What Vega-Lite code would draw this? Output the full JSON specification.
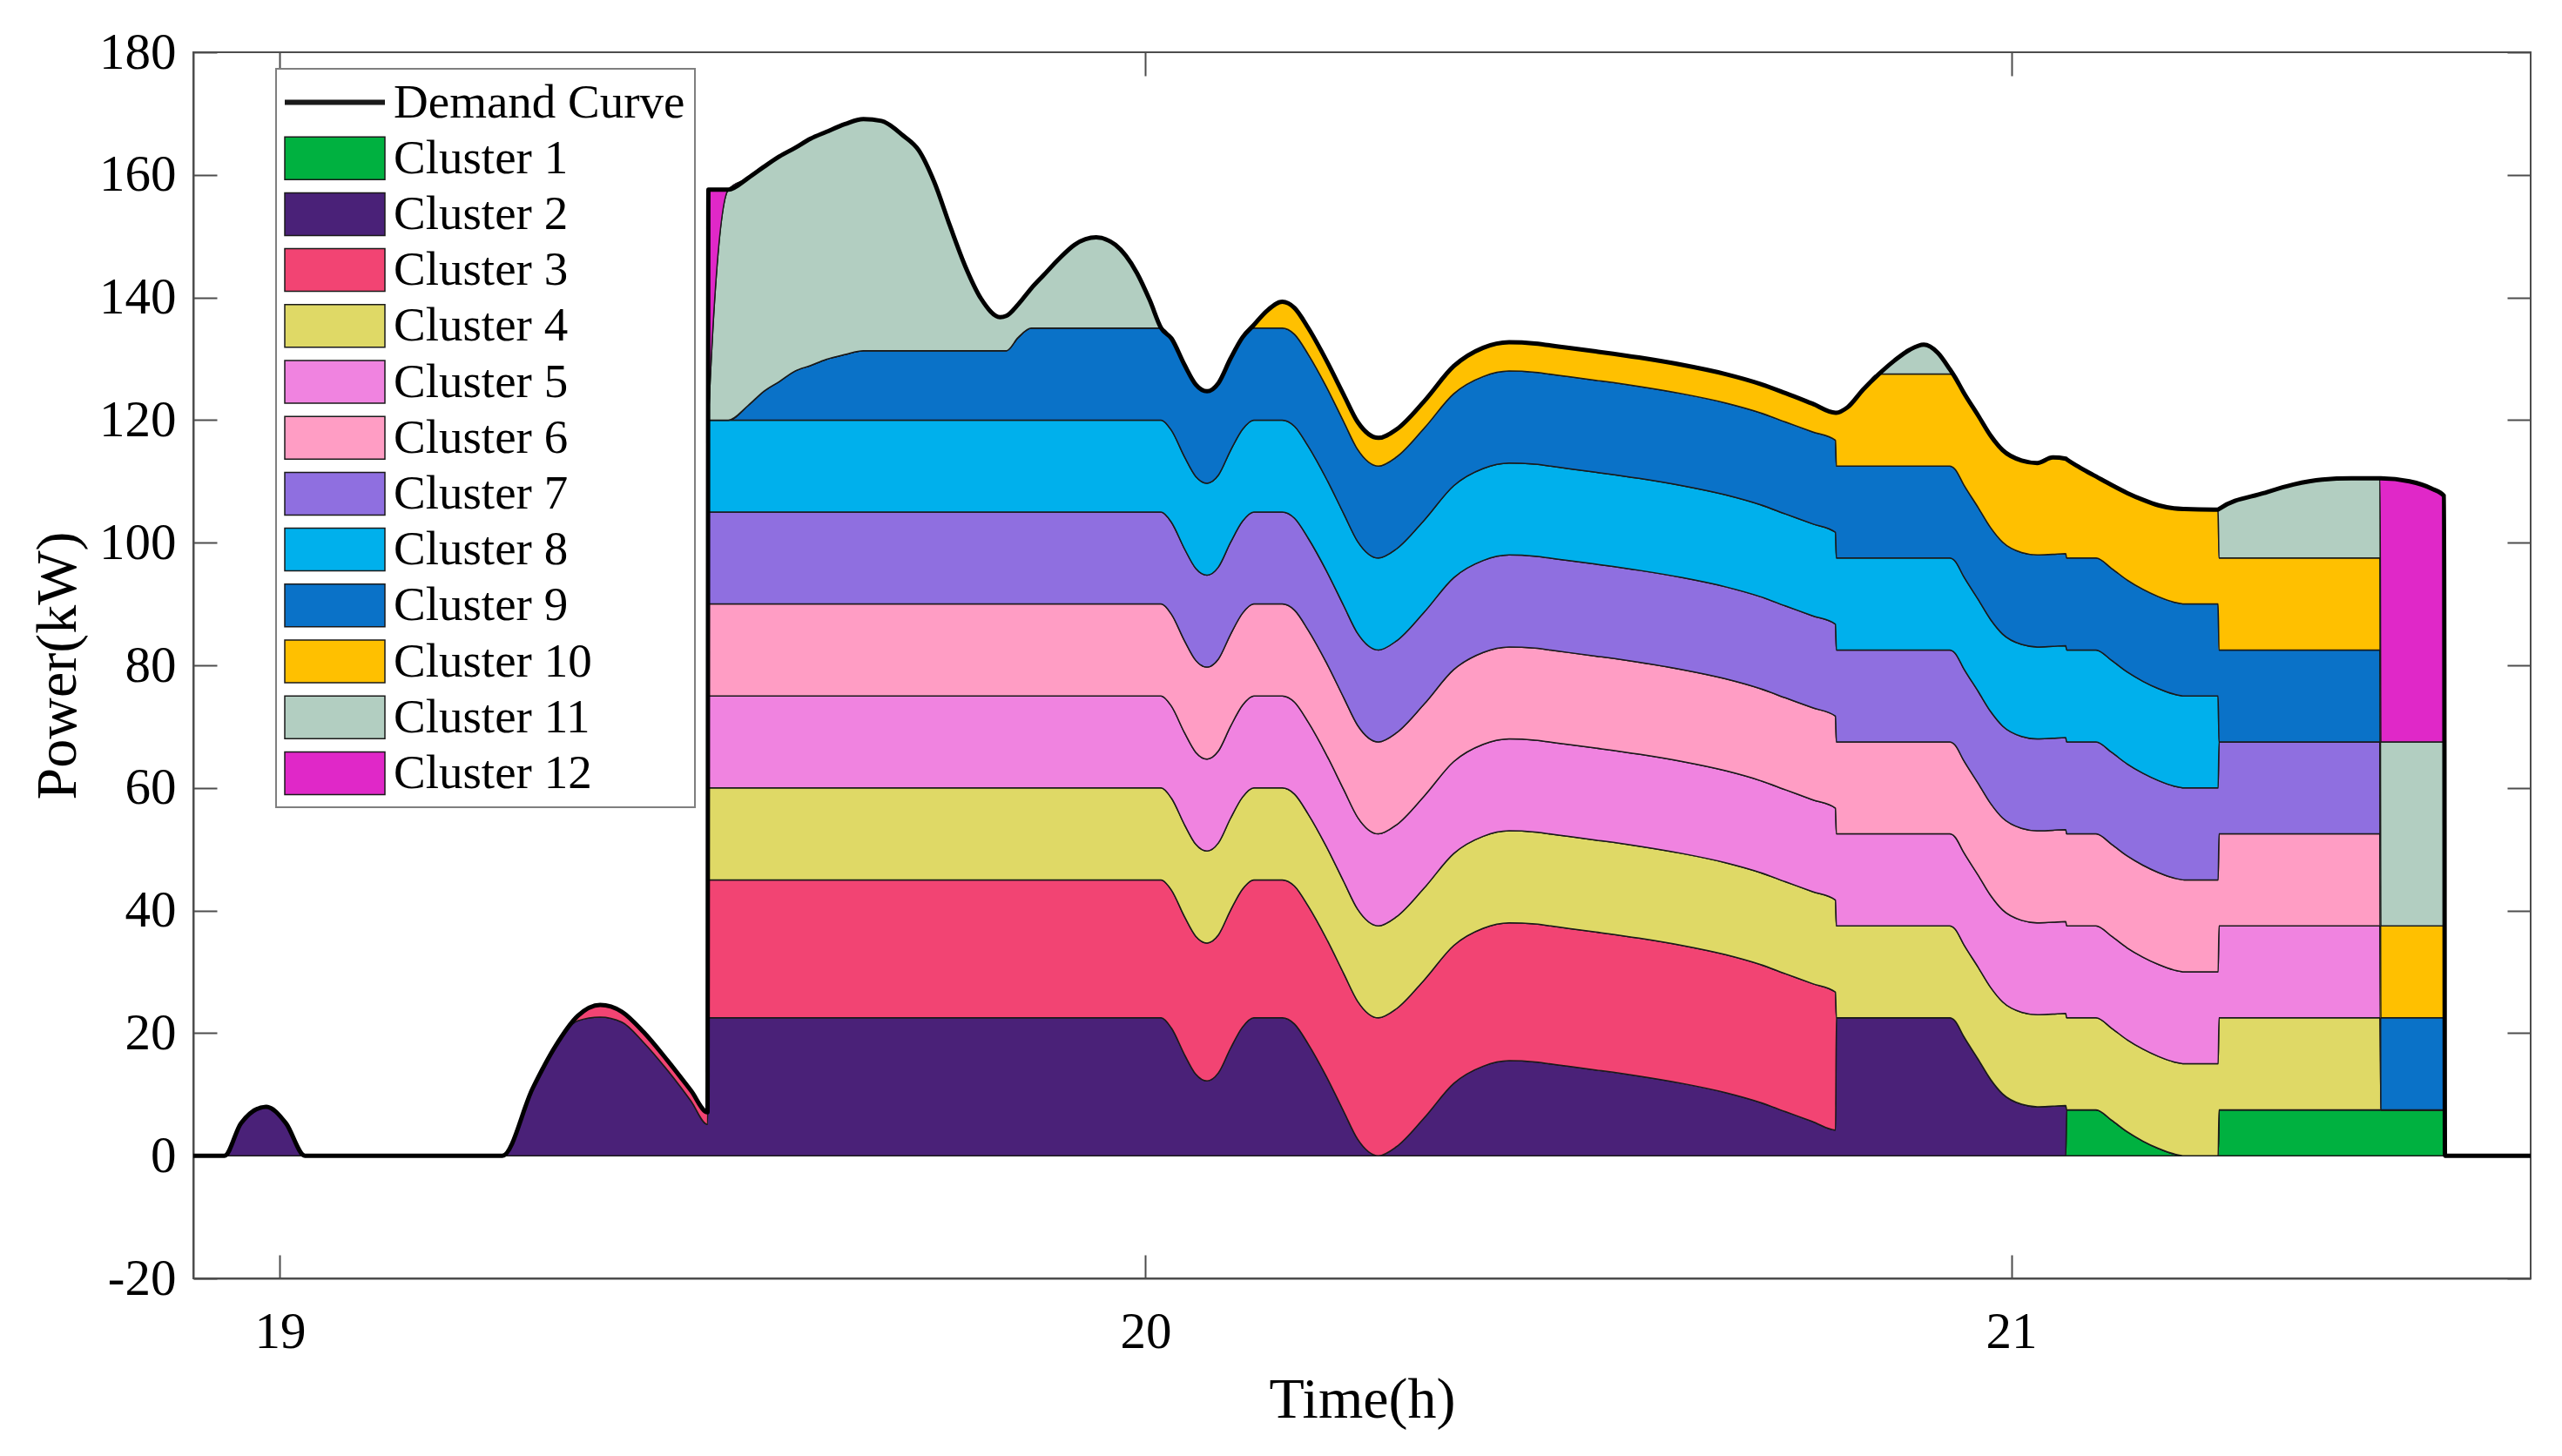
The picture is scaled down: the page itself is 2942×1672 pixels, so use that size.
{
  "$schema": "https://vega.github.io/schema/vega-lite/v6.json",
  "description": "Stacked cluster power with demand curve",
  "width": 2684,
  "height": 1408,
  "autosize": {"type": "none"},
  "padding": {"left": 222, "top": 60, "right": 36, "bottom": 204},
  "background": "white",
  "datasets": {
    "clusters": [
      {"key": "c1", "cluster": "Cluster 1", "idx": 1},
      {"key": "c2", "cluster": "Cluster 2", "idx": 2},
      {"key": "c3", "cluster": "Cluster 3", "idx": 3},
      {"key": "c4", "cluster": "Cluster 4", "idx": 4},
      {"key": "c5", "cluster": "Cluster 5", "idx": 5},
      {"key": "c6", "cluster": "Cluster 6", "idx": 6},
      {"key": "c7", "cluster": "Cluster 7", "idx": 7},
      {"key": "c8", "cluster": "Cluster 8", "idx": 8},
      {"key": "c9", "cluster": "Cluster 9", "idx": 9},
      {"key": "c10", "cluster": "Cluster 10", "idx": 10},
      {"key": "c11", "cluster": "Cluster 11", "idx": 11},
      {"key": "c12", "cluster": "Cluster 12", "idx": 12}
    ],
    "load": [
      {"t": 18.9, "c1": 0, "c2": 0, "c3": 0, "c4": 0, "c5": 0, "c6": 0, "c7": 0, "c8": 0, "c9": 0, "c10": 0, "c11": 0, "c12": 0},
      {"t": 18.936, "c1": 0, "c2": 0, "c3": 0, "c4": 0, "c5": 0, "c6": 0, "c7": 0, "c8": 0, "c9": 0, "c10": 0, "c11": 0, "c12": 0},
      {"t": 18.955, "c1": 0, "c2": 5.3, "c3": 0, "c4": 0, "c5": 0, "c6": 0, "c7": 0, "c8": 0, "c9": 0, "c10": 0, "c11": 0, "c12": 0},
      {"t": 18.984, "c1": 0, "c2": 8, "c3": 0, "c4": 0, "c5": 0, "c6": 0, "c7": 0, "c8": 0, "c9": 0, "c10": 0, "c11": 0, "c12": 0},
      {"t": 19.007, "c1": 0, "c2": 5.3, "c3": 0, "c4": 0, "c5": 0, "c6": 0, "c7": 0, "c8": 0, "c9": 0, "c10": 0, "c11": 0, "c12": 0},
      {"t": 19.029, "c1": 0, "c2": 0, "c3": 0, "c4": 0, "c5": 0, "c6": 0, "c7": 0, "c8": 0, "c9": 0, "c10": 0, "c11": 0, "c12": 0},
      {"t": 19.257, "c1": 0, "c2": 0, "c3": 0, "c4": 0, "c5": 0, "c6": 0, "c7": 0, "c8": 0, "c9": 0, "c10": 0, "c11": 0, "c12": 0},
      {"t": 19.292, "c1": 0, "c2": 11, "c3": 0, "c4": 0, "c5": 0, "c6": 0, "c7": 0, "c8": 0, "c9": 0, "c10": 0, "c11": 0, "c12": 0},
      {"t": 19.318, "c1": 0, "c2": 17.8, "c3": 0, "c4": 0, "c5": 0, "c6": 0, "c7": 0, "c8": 0, "c9": 0, "c10": 0, "c11": 0, "c12": 0},
      {"t": 19.344, "c1": 0, "c2": 22, "c3": 0.8, "c4": 0, "c5": 0, "c6": 0, "c7": 0, "c8": 0, "c9": 0, "c10": 0, "c11": 0, "c12": 0},
      {"t": 19.37, "c1": 0, "c2": 22.6, "c3": 2, "c4": 0, "c5": 0, "c6": 0, "c7": 0, "c8": 0, "c9": 0, "c10": 0, "c11": 0, "c12": 0},
      {"t": 19.395, "c1": 0, "c2": 21.8, "c3": 1.7, "c4": 0, "c5": 0, "c6": 0, "c7": 0, "c8": 0, "c9": 0, "c10": 0, "c11": 0, "c12": 0},
      {"t": 19.42, "c1": 0, "c2": 18.5, "c3": 1.7, "c4": 0, "c5": 0, "c6": 0, "c7": 0, "c8": 0, "c9": 0, "c10": 0, "c11": 0, "c12": 0},
      {"t": 19.448, "c1": 0, "c2": 13.9, "c3": 1.6, "c4": 0, "c5": 0, "c6": 0, "c7": 0, "c8": 0, "c9": 0, "c10": 0, "c11": 0, "c12": 0},
      {"t": 19.475, "c1": 0, "c2": 8.9, "c3": 1.7, "c4": 0, "c5": 0, "c6": 0, "c7": 0, "c8": 0, "c9": 0, "c10": 0, "c11": 0, "c12": 0},
      {"t": 19.494, "c1": 0, "c2": 5.1, "c3": 2, "c4": 0, "c5": 0, "c6": 0, "c7": 0, "c8": 0, "c9": 0, "c10": 0, "c11": 0, "c12": 0},
      {"t": 19.495, "c1": 0, "c2": 22.5, "c3": 22.5, "c4": 15, "c5": 15, "c6": 15, "c7": 15, "c8": 15, "c9": 0, "c10": 0, "c11": 0, "c12": 37.6},
      {"t": 19.518, "c1": 0, "c2": 22.5, "c3": 22.5, "c4": 15, "c5": 15, "c6": 15, "c7": 15, "c8": 15, "c9": 0, "c10": 0, "c11": 37.6, "c12": 0},
      {"t": 19.541, "c1": 0, "c2": 22.5, "c3": 22.5, "c4": 15, "c5": 15, "c6": 15, "c7": 15, "c8": 15, "c9": 2.4, "c10": 0, "c11": 37.1, "c12": 0},
      {"t": 19.559, "c1": 0, "c2": 22.5, "c3": 22.5, "c4": 15, "c5": 15, "c6": 15, "c7": 15, "c8": 15, "c9": 4.7, "c10": 0, "c11": 36.6, "c12": 0},
      {"t": 19.577, "c1": 0, "c2": 22.5, "c3": 22.5, "c4": 15, "c5": 15, "c6": 15, "c7": 15, "c8": 15, "c9": 6.3, "c10": 0, "c11": 36.7, "c12": 0},
      {"t": 19.595, "c1": 0, "c2": 22.5, "c3": 22.5, "c4": 15, "c5": 15, "c6": 15, "c7": 15, "c8": 15, "c9": 8, "c10": 0, "c11": 36.4, "c12": 0},
      {"t": 19.613, "c1": 0, "c2": 22.5, "c3": 22.5, "c4": 15, "c5": 15, "c6": 15, "c7": 15, "c8": 15, "c9": 8.9, "c10": 0, "c11": 37, "c12": 0},
      {"t": 19.631, "c1": 0, "c2": 22.5, "c3": 22.5, "c4": 15, "c5": 15, "c6": 15, "c7": 15, "c8": 15, "c9": 9.9, "c10": 0, "c11": 37.1, "c12": 0},
      {"t": 19.653, "c1": 0, "c2": 22.5, "c3": 22.5, "c4": 15, "c5": 15, "c6": 15, "c7": 15, "c8": 15, "c9": 10.7, "c10": 0, "c11": 37.6, "c12": 0},
      {"t": 19.674, "c1": 0, "c2": 22.5, "c3": 22.5, "c4": 15, "c5": 15, "c6": 15, "c7": 15, "c8": 15, "c9": 11.3, "c10": 0, "c11": 37.8, "c12": 0},
      {"t": 19.695, "c1": 0, "c2": 22.5, "c3": 22.5, "c4": 15, "c5": 15, "c6": 15, "c7": 15, "c8": 15, "c9": 11.3, "c10": 0, "c11": 37.5, "c12": 0},
      {"t": 19.72, "c1": 0, "c2": 22.5, "c3": 22.5, "c4": 15, "c5": 15, "c6": 15, "c7": 15, "c8": 15, "c9": 11.3, "c10": 0, "c11": 35.1, "c12": 0},
      {"t": 19.738, "c1": 0, "c2": 22.5, "c3": 22.5, "c4": 15, "c5": 15, "c6": 15, "c7": 15, "c8": 15, "c9": 11.3, "c10": 0, "c11": 32.7, "c12": 0},
      {"t": 19.756, "c1": 0, "c2": 22.5, "c3": 22.5, "c4": 15, "c5": 15, "c6": 15, "c7": 15, "c8": 15, "c9": 11.3, "c10": 0, "c11": 27.5, "c12": 0},
      {"t": 19.774, "c1": 0, "c2": 22.5, "c3": 22.5, "c4": 15, "c5": 15, "c6": 15, "c7": 15, "c8": 15, "c9": 11.3, "c10": 0, "c11": 20.4, "c12": 0},
      {"t": 19.792, "c1": 0, "c2": 22.5, "c3": 22.5, "c4": 15, "c5": 15, "c6": 15, "c7": 15, "c8": 15, "c9": 11.3, "c10": 0, "c11": 13.7, "c12": 0},
      {"t": 19.81, "c1": 0, "c2": 22.5, "c3": 22.5, "c4": 15, "c5": 15, "c6": 15, "c7": 15, "c8": 15, "c9": 11.3, "c10": 0, "c11": 8.5, "c12": 0},
      {"t": 19.832, "c1": 0, "c2": 22.5, "c3": 22.5, "c4": 15, "c5": 15, "c6": 15, "c7": 15, "c8": 15, "c9": 11.3, "c10": 0, "c11": 5.5, "c12": 0},
      {"t": 19.839, "c1": 0, "c2": 22.5, "c3": 22.5, "c4": 15, "c5": 15, "c6": 15, "c7": 15, "c8": 15, "c9": 11.3, "c10": 0, "c11": 5.7, "c12": 0},
      {"t": 19.853, "c1": 0, "c2": 22.5, "c3": 22.5, "c4": 15, "c5": 15, "c6": 15, "c7": 15, "c8": 15, "c9": 13.5, "c10": 0, "c11": 5.4, "c12": 0},
      {"t": 19.868, "c1": 0, "c2": 22.5, "c3": 22.5, "c4": 15, "c5": 15, "c6": 15, "c7": 15, "c8": 15, "c9": 15, "c10": 0, "c11": 6.5, "c12": 0},
      {"t": 19.882, "c1": 0, "c2": 22.5, "c3": 22.5, "c4": 15, "c5": 15, "c6": 15, "c7": 15, "c8": 15, "c9": 15, "c10": 0, "c11": 8.6, "c12": 0},
      {"t": 19.9, "c1": 0, "c2": 22.5, "c3": 22.5, "c4": 15, "c5": 15, "c6": 15, "c7": 15, "c8": 15, "c9": 15, "c10": 0, "c11": 11.3, "c12": 0},
      {"t": 19.918, "c1": 0, "c2": 22.5, "c3": 22.5, "c4": 15, "c5": 15, "c6": 15, "c7": 15, "c8": 15, "c9": 15, "c10": 0, "c11": 13.6, "c12": 0},
      {"t": 19.943, "c1": 0, "c2": 22.5, "c3": 22.5, "c4": 15, "c5": 15, "c6": 15, "c7": 15, "c8": 15, "c9": 15, "c10": 0, "c11": 14.8, "c12": 0},
      {"t": 19.965, "c1": 0, "c2": 22.5, "c3": 22.5, "c4": 15, "c5": 15, "c6": 15, "c7": 15, "c8": 15, "c9": 15, "c10": 0, "c11": 13.6, "c12": 0},
      {"t": 19.99, "c1": 0, "c2": 22.5, "c3": 22.5, "c4": 15, "c5": 15, "c6": 15, "c7": 15, "c8": 15, "c9": 15, "c10": 0, "c11": 9, "c12": 0},
      {"t": 20.005, "c1": 0, "c2": 22.5, "c3": 22.5, "c4": 15, "c5": 15, "c6": 15, "c7": 15, "c8": 15, "c9": 15, "c10": 0, "c11": 4.5, "c12": 0},
      {"t": 20.018, "c1": 0, "c2": 22.5, "c3": 22.5, "c4": 15, "c5": 15, "c6": 15, "c7": 15, "c8": 15, "c9": 15, "c10": 0, "c11": 0, "c12": 0},
      {"t": 20.03, "c1": 0, "c2": 20.8, "c3": 22.5, "c4": 15, "c5": 15, "c6": 15, "c7": 15, "c8": 15, "c9": 15, "c10": 0, "c11": 0, "c12": 0},
      {"t": 20.045, "c1": 0, "c2": 16.5, "c3": 22.5, "c4": 15, "c5": 15, "c6": 15, "c7": 15, "c8": 15, "c9": 15, "c10": 0, "c11": 0, "c12": 0},
      {"t": 20.058, "c1": 0, "c2": 13.3, "c3": 22.5, "c4": 15, "c5": 15, "c6": 15, "c7": 15, "c8": 15, "c9": 15, "c10": 0, "c11": 0, "c12": 0},
      {"t": 20.071, "c1": 0, "c2": 12.2, "c3": 22.5, "c4": 15, "c5": 15, "c6": 15, "c7": 15, "c8": 15, "c9": 15, "c10": 0, "c11": 0, "c12": 0},
      {"t": 20.084, "c1": 0, "c2": 13.5, "c3": 22.5, "c4": 15, "c5": 15, "c6": 15, "c7": 15, "c8": 15, "c9": 15, "c10": 0, "c11": 0, "c12": 0},
      {"t": 20.098, "c1": 0, "c2": 17.5, "c3": 22.5, "c4": 15, "c5": 15, "c6": 15, "c7": 15, "c8": 15, "c9": 15, "c10": 0, "c11": 0, "c12": 0},
      {"t": 20.112, "c1": 0, "c2": 21, "c3": 22.5, "c4": 15, "c5": 15, "c6": 15, "c7": 15, "c8": 15, "c9": 15, "c10": 0, "c11": 0, "c12": 0},
      {"t": 20.125, "c1": 0, "c2": 22.5, "c3": 22.5, "c4": 15, "c5": 15, "c6": 15, "c7": 15, "c8": 15, "c9": 15, "c10": 0.5, "c11": 0, "c12": 0},
      {"t": 20.14, "c1": 0, "c2": 22.5, "c3": 22.5, "c4": 15, "c5": 15, "c6": 15, "c7": 15, "c8": 15, "c9": 15, "c10": 2.8, "c11": 0, "c12": 0},
      {"t": 20.158, "c1": 0, "c2": 22.5, "c3": 22.5, "c4": 15, "c5": 15, "c6": 15, "c7": 15, "c8": 15, "c9": 15, "c10": 4.3, "c11": 0, "c12": 0},
      {"t": 20.172, "c1": 0, "c2": 21.5, "c3": 22.5, "c4": 15, "c5": 15, "c6": 15, "c7": 15, "c8": 15, "c9": 15, "c10": 4.3, "c11": 0, "c12": 0},
      {"t": 20.188, "c1": 0, "c2": 18.2, "c3": 22.5, "c4": 15, "c5": 15, "c6": 15, "c7": 15, "c8": 15, "c9": 15, "c10": 4.3, "c11": 0, "c12": 0},
      {"t": 20.209, "c1": 0, "c2": 12.9, "c3": 22.5, "c4": 15, "c5": 15, "c6": 15, "c7": 15, "c8": 15, "c9": 15, "c10": 4.3, "c11": 0, "c12": 0},
      {"t": 20.229, "c1": 0, "c2": 7.2, "c3": 22.5, "c4": 15, "c5": 15, "c6": 15, "c7": 15, "c8": 15, "c9": 15, "c10": 4.4, "c11": 0, "c12": 0},
      {"t": 20.245, "c1": 0, "c2": 2.7, "c3": 22.5, "c4": 15, "c5": 15, "c6": 15, "c7": 15, "c8": 15, "c9": 15, "c10": 4.5, "c11": 0, "c12": 0},
      {"t": 20.269, "c1": 0, "c2": 0, "c3": 22.5, "c4": 15, "c5": 15, "c6": 15, "c7": 15, "c8": 15, "c9": 15, "c10": 4.6, "c11": 0, "c12": 0},
      {"t": 20.29, "c1": 0, "c2": 1.5, "c3": 22.5, "c4": 15, "c5": 15, "c6": 15, "c7": 15, "c8": 15, "c9": 15, "c10": 4.5, "c11": 0, "c12": 0},
      {"t": 20.322, "c1": 0, "c2": 6.2, "c3": 22.5, "c4": 15, "c5": 15, "c6": 15, "c7": 15, "c8": 15, "c9": 15, "c10": 4.4, "c11": 0, "c12": 0},
      {"t": 20.356, "c1": 0, "c2": 11.8, "c3": 22.5, "c4": 15, "c5": 15, "c6": 15, "c7": 15, "c8": 15, "c9": 15, "c10": 4.5, "c11": 0, "c12": 0},
      {"t": 20.39, "c1": 0, "c2": 14.6, "c3": 22.5, "c4": 15, "c5": 15, "c6": 15, "c7": 15, "c8": 15, "c9": 15, "c10": 4.7, "c11": 0, "c12": 0},
      {"t": 20.42, "c1": 0, "c2": 15.5, "c3": 22.5, "c4": 15, "c5": 15, "c6": 15, "c7": 15, "c8": 15, "c9": 15, "c10": 4.7, "c11": 0, "c12": 0},
      {"t": 20.45, "c1": 0, "c2": 15.3, "c3": 22.5, "c4": 15, "c5": 15, "c6": 15, "c7": 15, "c8": 15, "c9": 15, "c10": 4.7, "c11": 0, "c12": 0},
      {"t": 20.477, "c1": 0, "c2": 14.8, "c3": 22.5, "c4": 15, "c5": 15, "c6": 15, "c7": 15, "c8": 15, "c9": 15, "c10": 4.7, "c11": 0, "c12": 0},
      {"t": 20.52, "c1": 0, "c2": 14, "c3": 22.5, "c4": 15, "c5": 15, "c6": 15, "c7": 15, "c8": 15, "c9": 15, "c10": 4.7, "c11": 0, "c12": 0},
      {"t": 20.57, "c1": 0, "c2": 13, "c3": 22.5, "c4": 15, "c5": 15, "c6": 15, "c7": 15, "c8": 15, "c9": 15, "c10": 4.7, "c11": 0, "c12": 0},
      {"t": 20.62, "c1": 0, "c2": 11.8, "c3": 22.5, "c4": 15, "c5": 15, "c6": 15, "c7": 15, "c8": 15, "c9": 15, "c10": 4.7, "c11": 0, "c12": 0},
      {"t": 20.67, "c1": 0, "c2": 10.3, "c3": 22.5, "c4": 15, "c5": 15, "c6": 15, "c7": 15, "c8": 15, "c9": 15, "c10": 4.7, "c11": 0, "c12": 0},
      {"t": 20.71, "c1": 0, "c2": 8.7, "c3": 22.5, "c4": 15, "c5": 15, "c6": 15, "c7": 15, "c8": 15, "c9": 15, "c10": 4.7, "c11": 0, "c12": 0},
      {"t": 20.739, "c1": 0, "c2": 7.2, "c3": 22.5, "c4": 15, "c5": 15, "c6": 15, "c7": 15, "c8": 15, "c9": 15, "c10": 4.7, "c11": 0, "c12": 0},
      {"t": 20.77, "c1": 0, "c2": 5.6, "c3": 22.5, "c4": 15, "c5": 15, "c6": 15, "c7": 15, "c8": 15, "c9": 15, "c10": 4.6, "c11": 0, "c12": 0},
      {"t": 20.797, "c1": 0, "c2": 4.2, "c3": 22.5, "c4": 15, "c5": 15, "c6": 15, "c7": 15, "c8": 15, "c9": 15, "c10": 4.5, "c11": 0, "c12": 0},
      {"t": 20.798, "c1": 0, "c2": 22.5, "c3": 0, "c4": 15, "c5": 15, "c6": 15, "c7": 15, "c8": 15, "c9": 15, "c10": 8.7, "c11": 0, "c12": 0},
      {"t": 20.811, "c1": 0, "c2": 22.5, "c3": 0, "c4": 15, "c5": 15, "c6": 15, "c7": 15, "c8": 15, "c9": 15, "c10": 9.6, "c11": 0, "c12": 0},
      {"t": 20.829, "c1": 0, "c2": 22.5, "c3": 0, "c4": 15, "c5": 15, "c6": 15, "c7": 15, "c8": 15, "c9": 15, "c10": 12.5, "c11": 0, "c12": 0},
      {"t": 20.847, "c1": 0, "c2": 22.5, "c3": 0, "c4": 15, "c5": 15, "c6": 15, "c7": 15, "c8": 15, "c9": 15, "c10": 15, "c11": 0, "c12": 0},
      {"t": 20.865, "c1": 0, "c2": 22.5, "c3": 0, "c4": 15, "c5": 15, "c6": 15, "c7": 15, "c8": 15, "c9": 15, "c10": 15, "c11": 2.2, "c12": 0},
      {"t": 20.883, "c1": 0, "c2": 22.5, "c3": 0, "c4": 15, "c5": 15, "c6": 15, "c7": 15, "c8": 15, "c9": 15, "c10": 15, "c11": 4, "c12": 0},
      {"t": 20.899, "c1": 0, "c2": 22.5, "c3": 0, "c4": 15, "c5": 15, "c6": 15, "c7": 15, "c8": 15, "c9": 15, "c10": 15, "c11": 4.8, "c12": 0},
      {"t": 20.915, "c1": 0, "c2": 22.5, "c3": 0, "c4": 15, "c5": 15, "c6": 15, "c7": 15, "c8": 15, "c9": 15, "c10": 15, "c11": 3.5, "c12": 0},
      {"t": 20.929, "c1": 0, "c2": 22.5, "c3": 0, "c4": 15, "c5": 15, "c6": 15, "c7": 15, "c8": 15, "c9": 15, "c10": 15, "c11": 0.8, "c12": 0},
      {"t": 20.935, "c1": 0, "c2": 22, "c3": 0, "c4": 15, "c5": 15, "c6": 15, "c7": 15, "c8": 15, "c9": 15, "c10": 15, "c11": 0, "c12": 0},
      {"t": 20.945, "c1": 0, "c2": 19.5, "c3": 0, "c4": 15, "c5": 15, "c6": 15, "c7": 15, "c8": 15, "c9": 15, "c10": 15, "c11": 0, "c12": 0},
      {"t": 20.962, "c1": 0, "c2": 15.7, "c3": 0, "c4": 15, "c5": 15, "c6": 15, "c7": 15, "c8": 15, "c9": 15, "c10": 15, "c11": 0, "c12": 0},
      {"t": 20.976, "c1": 0, "c2": 12.5, "c3": 0, "c4": 15, "c5": 15, "c6": 15, "c7": 15, "c8": 15, "c9": 15, "c10": 15, "c11": 0, "c12": 0},
      {"t": 20.99, "c1": 0, "c2": 10.1, "c3": 0, "c4": 15, "c5": 15, "c6": 15, "c7": 15, "c8": 15, "c9": 15, "c10": 15, "c11": 0, "c12": 0},
      {"t": 21.012, "c1": 0, "c2": 8.4, "c3": 0, "c4": 15, "c5": 15, "c6": 15, "c7": 15, "c8": 15, "c9": 15, "c10": 15, "c11": 0, "c12": 0},
      {"t": 21.03, "c1": 0, "c2": 8, "c3": 0, "c4": 15, "c5": 15, "c6": 15, "c7": 15, "c8": 15, "c9": 15, "c10": 15, "c11": 0, "c12": 0},
      {"t": 21.048, "c1": 0, "c2": 8.1, "c3": 0, "c4": 15, "c5": 15, "c6": 15, "c7": 15, "c8": 15, "c9": 15, "c10": 15.8, "c11": 0, "c12": 0},
      {"t": 21.063, "c1": 0, "c2": 8.2, "c3": 0, "c4": 15, "c5": 15, "c6": 15, "c7": 15, "c8": 15, "c9": 15, "c10": 15.5, "c11": 0, "c12": 0},
      {"t": 21.064, "c1": 7.5, "c2": 0, "c3": 0, "c4": 15, "c5": 15, "c6": 15, "c7": 15, "c8": 15, "c9": 15, "c10": 16.1, "c11": 0, "c12": 0},
      {"t": 21.08, "c1": 7.5, "c2": 0, "c3": 0, "c4": 15, "c5": 15, "c6": 15, "c7": 15, "c8": 15, "c9": 15, "c10": 14.7, "c11": 0, "c12": 0},
      {"t": 21.098, "c1": 7.5, "c2": 0, "c3": 0, "c4": 15, "c5": 15, "c6": 15, "c7": 15, "c8": 15, "c9": 15, "c10": 13.3, "c11": 0, "c12": 0},
      {"t": 21.116, "c1": 5.8, "c2": 0, "c3": 0, "c4": 15, "c5": 15, "c6": 15, "c7": 15, "c8": 15, "c9": 15, "c10": 13.6, "c11": 0, "c12": 0},
      {"t": 21.134, "c1": 3.9, "c2": 0, "c3": 0, "c4": 15, "c5": 15, "c6": 15, "c7": 15, "c8": 15, "c9": 15, "c10": 14.2, "c11": 0, "c12": 0},
      {"t": 21.152, "c1": 2.4, "c2": 0, "c3": 0, "c4": 15, "c5": 15, "c6": 15, "c7": 15, "c8": 15, "c9": 15, "c10": 14.6, "c11": 0, "c12": 0},
      {"t": 21.17, "c1": 1.2, "c2": 0, "c3": 0, "c4": 15, "c5": 15, "c6": 15, "c7": 15, "c8": 15, "c9": 15, "c10": 14.9, "c11": 0, "c12": 0},
      {"t": 21.188, "c1": 0.3, "c2": 0, "c3": 0, "c4": 15, "c5": 15, "c6": 15, "c7": 15, "c8": 15, "c9": 15, "c10": 15.3, "c11": 0, "c12": 0},
      {"t": 21.2, "c1": 0, "c2": 0, "c3": 0, "c4": 15, "c5": 15, "c6": 15, "c7": 15, "c8": 15, "c9": 15, "c10": 15.5, "c11": 0, "c12": 0},
      {"t": 21.239, "c1": 0, "c2": 0, "c3": 0, "c4": 15, "c5": 15, "c6": 15, "c7": 15, "c8": 15, "c9": 15, "c10": 15.4, "c11": 0, "c12": 0},
      {"t": 21.24, "c1": 7.5, "c2": 0, "c3": 0, "c4": 15, "c5": 15, "c6": 15, "c7": 15, "c8": 0, "c9": 15, "c10": 15, "c11": 8, "c12": 0},
      {"t": 21.292, "c1": 7.5, "c2": 0, "c3": 0, "c4": 15, "c5": 15, "c6": 15, "c7": 15, "c8": 0, "c9": 15, "c10": 15, "c11": 10.6, "c12": 0},
      {"t": 21.326, "c1": 7.5, "c2": 0, "c3": 0, "c4": 15, "c5": 15, "c6": 15, "c7": 15, "c8": 0, "c9": 15, "c10": 15, "c11": 12, "c12": 0},
      {"t": 21.359, "c1": 7.5, "c2": 0, "c3": 0, "c4": 15, "c5": 15, "c6": 15, "c7": 15, "c8": 0, "c9": 15, "c10": 15, "c11": 12.8, "c12": 0},
      {"t": 21.393, "c1": 7.5, "c2": 0, "c3": 0, "c4": 15, "c5": 15, "c6": 15, "c7": 15, "c8": 0, "c9": 15, "c10": 15, "c11": 13, "c12": 0},
      {"t": 21.426, "c1": 7.5, "c2": 0, "c3": 0, "c4": 15, "c5": 15, "c6": 15, "c7": 15, "c8": 0, "c9": 15, "c10": 15, "c11": 13, "c12": 0},
      {"t": 21.427, "c1": 7.5, "c2": 0, "c3": 0, "c4": 0, "c5": 0, "c6": 0, "c7": 0, "c8": 0, "c9": 15, "c10": 15, "c11": 30, "c12": 43},
      {"t": 21.46, "c1": 7.5, "c2": 0, "c3": 0, "c4": 0, "c5": 0, "c6": 0, "c7": 0, "c8": 0, "c9": 15, "c10": 15, "c11": 30, "c12": 42.5},
      {"t": 21.486, "c1": 7.5, "c2": 0, "c3": 0, "c4": 0, "c5": 0, "c6": 0, "c7": 0, "c8": 0, "c9": 15, "c10": 15, "c11": 30, "c12": 41.3},
      {"t": 21.5, "c1": 7.5, "c2": 0, "c3": 0, "c4": 0, "c5": 0, "c6": 0, "c7": 0, "c8": 0, "c9": 15, "c10": 15, "c11": 30, "c12": 40.1},
      {"t": 21.501, "c1": 0, "c2": 0, "c3": 0, "c4": 0, "c5": 0, "c6": 0, "c7": 0, "c8": 0, "c9": 0, "c10": 0, "c11": 0, "c12": 0},
      {"t": 21.6, "c1": 0, "c2": 0, "c3": 0, "c4": 0, "c5": 0, "c6": 0, "c7": 0, "c8": 0, "c9": 0, "c10": 0, "c11": 0, "c12": 0}
    ]
  },
  "data": {"name": "load"},
  "transform": [
    {"fold": ["c1", "c2", "c3", "c4", "c5", "c6", "c7", "c8", "c9", "c10", "c11", "c12"], "as": ["key", "power"]},
    {"lookup": "key", "from": {"data": {"name": "clusters"}, "key": "key", "fields": ["cluster", "idx"]}}
  ],
  "layer": [
    {
      "mark": {"type": "area", "interpolate": "monotone", "stroke": "#1a1a1a", "strokeWidth": 1.5, "fillOpacity": 1},
      "encoding": {
        "x": {
          "field": "t",
          "type": "quantitative",
          "scale": {"domain": [18.9, 21.6], "nice": false, "zero": false},
          "axis": {"title": "Time(h)", "values": [19, 20, 21], "labelExpr": "'' + datum.value", "labelPadding": 59, "titlePadding": 16}
        },
        "y": {
          "field": "power",
          "type": "quantitative",
          "stack": "zero",
          "scale": {"domain": [-20, 180], "nice": false, "zero": false},
          "axis": {"title": "Power(kW)", "values": [-20, 0, 20, 40, 60, 80, 100, 120, 140, 160, 180], "labelExpr": "'' + datum.value", "labelPadding": 47, "titlePadding": 13}
        },
        "color": {
          "field": "cluster",
          "type": "nominal",
          "scale": {
            "domain": ["Demand Curve", "Cluster 1", "Cluster 2", "Cluster 3", "Cluster 4", "Cluster 5", "Cluster 6", "Cluster 7", "Cluster 8", "Cluster 9", "Cluster 10", "Cluster 11", "Cluster 12"],
            "range": ["#000000", "#00b140", "#4a2178", "#f24473", "#dfd966", "#f083e0", "#ff9dc4", "#8f6fe0", "#00b0ec", "#0a72c8", "#ffc000", "#b2cec1", "#e028c8"]
          },
          "legend": {
            "orient": "none",
            "legendX": 95,
            "legendY": 19,
            "direction": "vertical",
            "columns": 1,
            "title": null,
            "symbolType": "M-1,-0.426H1V0.426H-1Z",
            "symbolSize": 13225,
            "symbolOffset": 29,
            "symbolStrokeWidth": 1.5,
            "symbolStrokeColor": "#1a1a1a",
            "symbolOpacity": 1,
            "labelFont": "Liberation Serif",
            "labelFontSize": 55,
            "labelColor": "#000000",
            "labelOffset": 40,
            "labelLimit": 1000,
            "rowPadding": 8.2,
            "padding": 11,
            "strokeColor": "#7f7f7f",
            "fillColor": "#ffffff",
            "encode": {
              "legend": {"update": {"strokeWidth": {"value": 2}}},
              "symbols": {
                "update": {
                  "shape": {"signal": "datum.value === 'Demand Curve' ? 'M-1,0H1' : 'M-1,-0.426H1V0.426H-1Z'"},
                  "strokeWidth": {"signal": "datum.value === 'Demand Curve' ? 6 : 1.5"},
                  "stroke": {"value": "#1a1a1a"}
                }
              }
            }
          }
        },
        "order": {"field": "idx", "type": "quantitative", "sort": "ascending"}
      }
    },
    {
      "mark": {"type": "line", "interpolate": "monotone", "color": "#000000", "strokeWidth": 5},
      "encoding": {
        "x": {
          "field": "t",
          "type": "quantitative",
          "axis": {"orient": "top", "labels": false, "title": null, "domain": false, "values": [19, 20, 21]}
        },
        "y": {
          "aggregate": "sum",
          "field": "power",
          "type": "quantitative",
          "axis": {"orient": "right", "labels": false, "title": null, "domain": false, "values": [-20, 0, 20, 40, 60, 80, 100, 120, 140, 160, 180]}
        }
      }
    }
  ],
  "resolve": {"axis": {"x": "independent", "y": "independent"}},
  "config": {
    "font": "Liberation Serif",
    "view": {"stroke": "#4d4d4d", "strokeWidth": 2},
    "axis": {
      "grid": false,
      "domainColor": "#4d4d4d",
      "domainWidth": 2,
      "tickColor": "#4d4d4d",
      "tickWidth": 2,
      "tickSize": -27,
      "labelFont": "Liberation Serif",
      "labelFontSize": 59,
      "labelColor": "#000000",
      "labelFlush": false,
      "labelOverlap": false,
      "titleFont": "Liberation Serif",
      "titleFontSize": 66,
      "titleFontWeight": "normal",
      "titleColor": "#000000"
    }
  }
}
